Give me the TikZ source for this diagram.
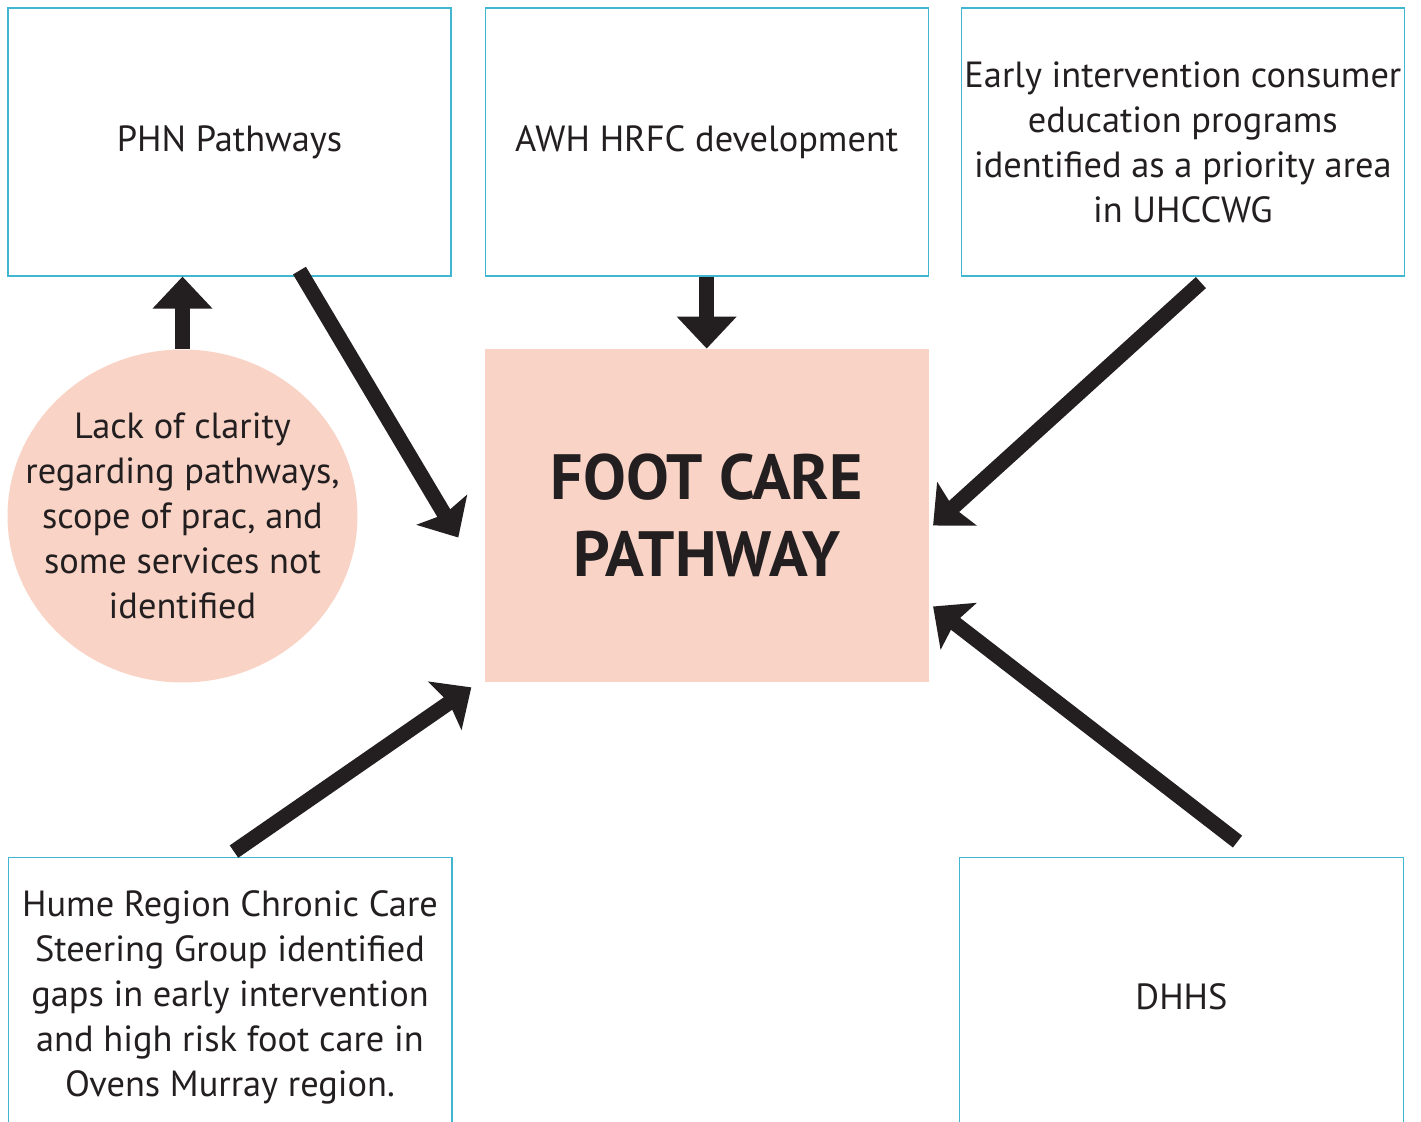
\documentclass[tikz,border=0pt]{standalone}
\usepackage{fontspec}
\setmainfont{PT Sans}
\usetikzlibrary{positioning,arrows.meta,shapes.geometric,calc}
\definecolor{boxline}{HTML}{41B6D0}
\definecolor{peach}{HTML}{F9D4C6}
\definecolor{ink}{HTML}{231F20}

\begin{document}
\begin{tikzpicture}[
        x=0.5pt, y=-0.5pt,
        font=\fontsize{18.2}{22.5}\selectfont,
        text=ink,
        src/.style={draw=boxline, line width=0.6pt, align=center, inner sep=0pt,
            minimum width=221.5pt, minimum height=134pt},
        open/.style={align=center, inner sep=0pt, minimum width=221.5pt, minimum height=139pt},
        edge/.style={draw=boxline, line width=0.6pt},
        hub/.style={fill=peach, align=center, inner sep=0pt, minimum width=222pt, minimum height=166.5pt,
            font=\bfseries\fontsize{32}{38.5}\selectfont},
        issue/.style={ellipse, fill=peach, align=center, inner xsep=-25pt, inner ysep=-30pt,
            minimum width=175pt, minimum height=166.5pt},
        arr/.style={draw=ink, line width=7.5pt},
        up/.style={arr, -{Triangle[length=16pt, width=29pt]}},
        slant/.style={arr, -{Stealth[length=16pt, width=29pt, inset=2.5pt]}}
    ]
        \useasboundingbox (0,0) rectangle (1421,1122);

        % Top row
        \node[src] (phn) at (229.5,142) {PHN Pathways};
        \node[src, right=16.5pt of phn] (awh) {AWH HRFC development};
        \node[src, right=16pt of awh] (early) {Early intervention consumer\\education programs\\identified as a priority area\\in UHCCWG};

        % Middle
        \node[hub, below=36pt of awh] (pathway) {FOOT CARE\\PATHWAY};
        \node[issue] (lack) at (182.5,516) {Lack of clarity\\regarding pathways,\\scope of prac, and\\some services not\\identified};

        % Bottom row, open at the lower edge
        \node[open] (hume) at (230,997) {Hume Region Chronic Care\\Steering Group identified\\gaps in early intervention\\and high risk foot care in\\Ovens Murray region.};
        \node[open] (dhhs) at (1181.5,997) {DHHS};
        \draw[edge] (hume.south west) |- (hume.north east) -- (hume.south east);
        \draw[edge] (dhhs.south west) |- (dhhs.north east) -- (dhhs.south east);

        % Arrows
        \draw[up] (lack) -- (lack |- phn.south);
        \draw[up] (awh) -- (pathway);
        \draw[slant] ([shift={(70,-6)}]phn.south) -- ([shift={(-26,22)}]pathway.west);
        \draw[slant] ([shift={(18,6)}]early.south) -- ([shift={(4,10)}]pathway.east);
        \draw[slant] ([shift={(4,-6)}]hume.north) -- ([shift={(-13,5)}]pathway.south west);
        \draw[slant] ([shift={(56,-16)}]dhhs.north) -- ([shift={(4,91)}]pathway.east);
    \end{tikzpicture}
\end{document}
